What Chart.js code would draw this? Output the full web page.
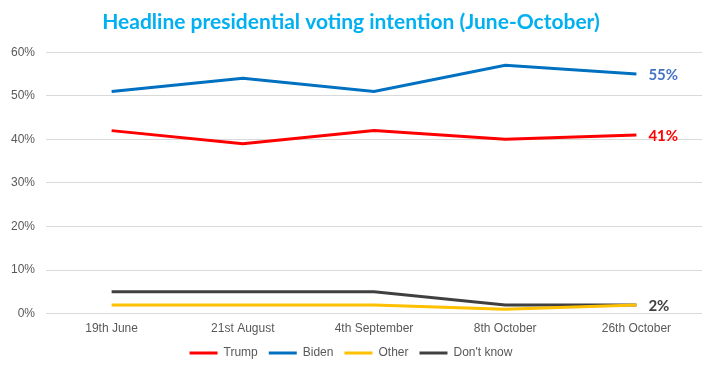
<!DOCTYPE html>
<html>
<head>
<meta charset="utf-8">
<script src="https://cdn.jsdelivr.net/npm/chart.js@4"></script>
<style>
  html, body { margin: 0; padding: 0; background: #fff; }
</style>
</head>
<body>
<canvas id="votingChart" width="715" height="374"></canvas>
<script>
const categories = ['19th June', '21st August', '4th September', '8th October', '26th October'];
const trump = [42, 39, 42, 40, 41];
const biden = [51, 54, 51, 57, 55];
const other = [2, 2, 2, 1, 2];
const dontKnow = [5, 5, 5, 2, 2];
const yTicks = [0, 10, 20, 30, 40, 50, 60];

// labels drawn to the right of the last point
const endLabels = [
    { dataset: 1, text: '55%', color: '#4472C4' },
    { dataset: 0, text: '41%', color: '#FF0000' },
    { dataset: 3, text: '2%', color: '#404040' },
];

const endLabelPlugin = {
    id: 'endLabels',
    afterDatasetsDraw(chart) {
        const ctx = chart.ctx;
        ctx.save();
        ctx.font = 'bold 15px Lato, sans-serif';
        ctx.textBaseline = 'middle';
        endLabels.forEach((label) => {
            const meta = chart.getDatasetMeta(label.dataset);
            const last = meta.data[meta.data.length - 1];
            ctx.fillStyle = label.color;
            ctx.fillText(label.text, last.x + 12, last.y + 1);
        });
        ctx.restore();
    }
};

const lineSet = (label, data, color) => ({
    label: label,
    data: data,
    borderColor: color,
    backgroundColor: color,
    borderWidth: 3,
    pointRadius: 0,
    pointHoverRadius: 0,
    fill: false,
    tension: 0
});

new Chart(document.getElementById('votingChart'), {
    type: 'line',
    data: {
        labels: categories,
        datasets: [
            lineSet('Trump', trump, '#FF0000'),
            lineSet('Biden', biden, '#0070C0'),
            lineSet('Other', other, '#FFC000'),
            lineSet("Don't know", dontKnow, '#404040'),
        ]
    },
    plugins: [endLabelPlugin],
    options: {
        responsive: false,
        animation: false,
        devicePixelRatio: 1,
        layout: { padding: { left: 0, right: 13, top: 0, bottom: 5 } },
        plugins: {
            title: {
                display: true,
                text: 'Headline presidential voting intention (June-October)',
                color: '#00B0F0',
                font: { family: 'Lato, sans-serif', size: 21, weight: 'bold' },
                padding: { top: 10, bottom: 17 }
            },
            legend: {
                position: 'bottom',
                labels: {
                    usePointStyle: true,
                    pointStyle: 'line',
                    pointStyleWidth: 28,
                    boxHeight: 3,
                    color: '#595959',
                    font: { family: '"Liberation Sans", Arial, sans-serif', size: 12 },
                    padding: 11
                }
            },
            tooltip: { enabled: false }
        },
        scales: {
            x: {
                offset: true,
                grid: { display: false },
                border: { display: false },
                ticks: {
                    color: '#595959',
                    padding: 0,
                    font: { family: '"Liberation Sans", Arial, sans-serif', size: 12 },
                    maxRotation: 0
                }
            },
            y: {
                min: 0,
                max: 60,
                afterBuildTicks(axis) {
                    axis.ticks = yTicks.map(v => ({ value: v }));
                },
                grid: { color: '#D9D9D9', lineWidth: 1, drawTicks: false },
                border: { display: false },
                ticks: {
                    color: '#595959',
                    padding: 11,
                    font: { family: '"Liberation Sans", Arial, sans-serif', size: 12 },
                    callback: v => v + '%'
                }
            }
        }
    }
});
</script>
</body>
</html>
